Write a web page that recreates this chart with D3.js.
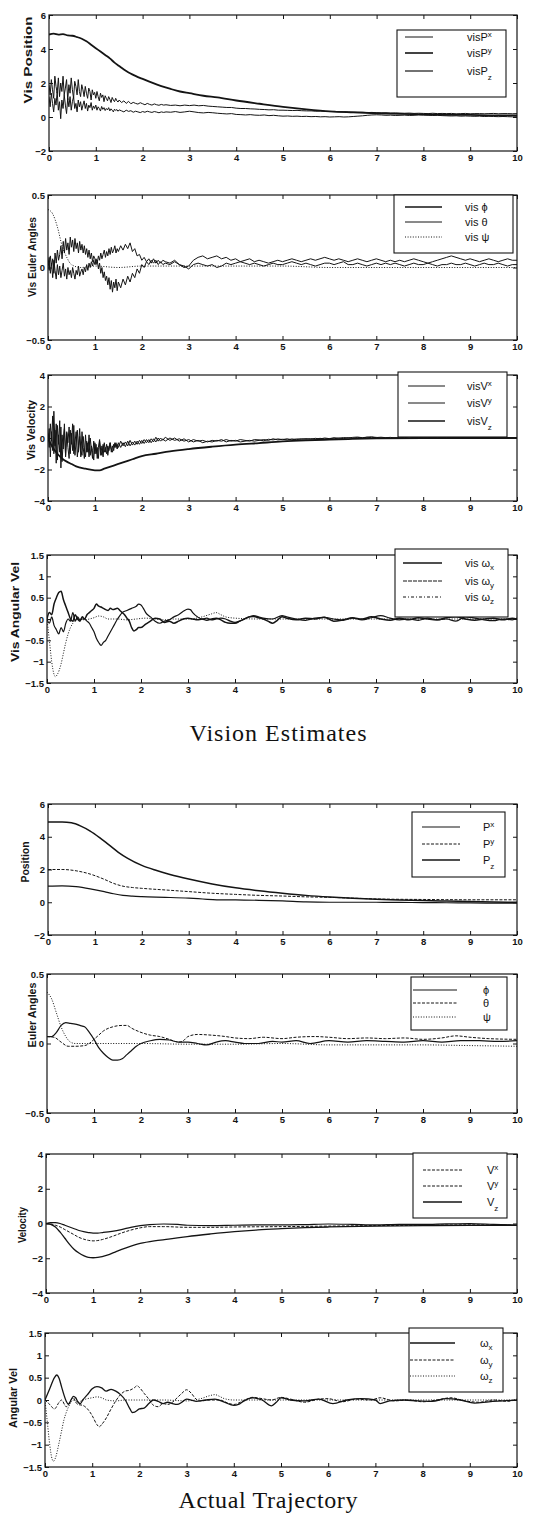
<!DOCTYPE html>
<html>
<head>
<meta charset="utf-8">
<script src="https://cdn.jsdelivr.net/npm/d3@7"></script>
<style>
  body { margin: 0; background: #fff; }
  svg { display: block; }
</style>
</head>
<body>
<div id="chart"></div>
<script>
// ---------- sample times ----------
// noisy vision signals: 0.025 s samples to 1.5 s, 0.05 s to 2.5 s, then 0.1 s
var tFine = d3.range(60).map(function(i) { return i * 0.025; })
    .concat(d3.range(20).map(function(i) { return 1.5 + i * 0.05; }))
    .concat(d3.range(76).map(function(i) { return 2.5 + i * 0.1; }));
var xTicks = [0, 1, 2, 3, 4, 5, 6, 7, 8, 9, 10];

// ---------- Vision estimates: position ----------
var visPxVals = [
    1.2,0.6,1.4,0.8,0.3,1.1,0.7,1.5,0.4,0.9,
    -0.1,1.0,0.5,1.3,0.7,0.2,1.1,0.6,1.2,0.4,
    0.9,1.2,0.5,0.8,0.3,1.0,0.6,0.9,0.4,0.7,
    0.95,0.5,0.8,0.35,0.7,0.55,0.85,0.4,0.65,0.5,
    0.7,0.4,0.6,0.5,0.35,0.62,0.45,0.55,0.38,0.5,
    0.42,0.55,0.36,0.48,0.4,0.3,0.46,0.38,0.44,0.34,
    0.42,0.36,0.3,0.4,0.33,0.37,0.28,0.34,0.3,0.26,
    0.32,0.28,0.34,0.3,0.27,0.32,0.29,0.25,0.3,0.27,
    0.3,0.28,0.32,0.27,0.3,0.34,0.3,0.26,0.24,0.27,
    0.25,0.22,0.2,0.18,0.2,0.15,0.14,0.12,0.14,0.11,
    0.1,0.12,0.08,0.1,0.07,0.05,0.06,0.04,0.05,0.03,
    0.04,0.02,0.03,0.01,0.02,0,0.01,0.02,0,0.01,
    0.03,0.05,0.07,0.1,0.12,0.13,0.12,0.1,0.11,0.09,
    0.1,0.11,0.09,0.1,0.12,0.11,0.1,0.09,0.1,0.08,
    0.07,0.06,0.07,0.05,0.06,0.05,0.04,0.05,0.03,0.04,
    0.03,0.02,0.03,0.02,0.01,0.02
];
var visPyVals = [
    1.9,1.3,2.2,1.6,1.1,2.4,1.8,1.4,2.3,1.2,
    2.0,1.5,2.4,1.3,1.7,2.2,1.0,1.9,1.4,2.3,
    1.6,1.1,2.1,1.8,1.3,2.2,1.5,1.2,1.9,1.6,
    1.2,1.8,1.4,1.1,1.7,1.5,1.0,1.6,1.3,1.45,
    1.1,1.5,1.2,0.95,1.4,1.15,1.3,0.9,1.25,1.1,
    0.95,1.2,1.05,0.85,1.15,1.0,0.9,1.1,0.95,0.88,
    1.0,0.85,0.95,0.8,0.92,0.78,0.86,0.8,0.76,0.84,
    0.78,0.72,0.8,0.74,0.7,0.77,0.72,0.69,0.74,0.7,
    0.72,0.68,0.7,0.66,0.7,0.67,0.7,0.66,0.68,0.64,
    0.62,0.6,0.58,0.56,0.56,0.52,0.5,0.5,0.48,0.47,
    0.45,0.44,0.42,0.43,0.4,0.4,0.39,0.38,0.39,0.37,
    0.36,0.36,0.34,0.35,0.33,0.32,0.33,0.31,0.31,0.3,
    0.29,0.28,0.28,0.26,0.27,0.25,0.24,0.25,0.23,0.24,
    0.23,0.22,0.23,0.21,0.22,0.21,0.2,0.22,0.2,0.21,
    0.2,0.21,0.19,0.2,0.21,0.19,0.2,0.2,0.19,0.2,
    0.21,0.19,0.2,0.2,0.19,0.2
];
var visPz = [[0,4.85],[0.1,4.9],[0.2,4.85],[0.3,4.88],[0.4,4.8],[0.5,4.78],[0.6,4.7],[0.7,4.6],
    [0.8,4.45],[0.9,4.25],[1.0,4.05],[1.1,3.85],[1.2,3.65],[1.3,3.45],[1.4,3.2],[1.5,3.0],
    [1.6,2.8],[1.7,2.62],[1.8,2.48],[1.9,2.35],[2.0,2.24],[2.2,2.02],[2.4,1.82],[2.6,1.65],
    [2.8,1.5],[3.0,1.4],[3.3,1.25],[3.6,1.15],[4.0,0.97],[4.5,0.78],[5.0,0.6],[5.5,0.45],
    [6.0,0.33],[6.5,0.27],[7.0,0.22],[7.5,0.18],[8.0,0.15],[8.5,0.13],[9.0,0.12],[9.5,0.1],[10,0.1]];

// ---------- Vision estimates: Euler angles ----------
var visPhiVals = [
    0.05,-0.02,0.08,0.01,0.06,-0.04,0.1,0.03,0.12,0.05,
    0.09,0.15,0.06,0.18,0.1,0.2,0.12,0.17,0.09,0.21,
    0.14,0.19,0.11,0.2,0.13,0.17,0.1,0.18,0.12,0.16,
    0.1,0.15,0.09,0.13,0.07,0.12,0.06,0.1,0.04,0.08,
    0.06,0.02,0.05,-0.01,0.03,-0.04,0.0,-0.07,-0.03,-0.09,
    -0.06,-0.12,-0.07,-0.15,-0.09,-0.17,-0.1,-0.14,-0.08,-0.16,
    -0.1,-0.14,-0.08,-0.12,-0.06,-0.1,-0.04,-0.07,-0.01,-0.04,
    0.02,0.0,0.04,0.02,0.05,0.03,0.05,0.02,0.04,0.02,
    0.03,0.02,0.04,0.02,0.01,-0.01,0.02,0.03,0.02,0.01,
    0.02,0.0,0.01,0.03,0.02,0.03,0.04,0.03,0.02,0.03,
    0.02,0.01,0.02,0.03,0.02,0.02,0.03,0.04,0.03,0.02,
    0.03,0.02,0.01,0.02,0.03,0.03,0.02,0.03,0.04,0.02,
    0.02,0.03,0.02,0.01,0.02,0.03,0.02,0.03,0.02,0.03,
    0.02,0.01,0.02,0.03,0.02,0.02,0.03,0.02,0.01,0.02,
    0.02,0.03,0.02,0.02,0.03,0.02,0.01,0.02,0.03,0.02,
    0.02,0.03,0.02,0.01,0.02,0.02
];
var visThetaVals = [
    0.02,0.07,-0.04,0.03,-0.07,0.05,-0.02,-0.08,0.02,-0.05,
    0.01,-0.07,-0.02,0.03,-0.06,-0.01,-0.08,0.0,-0.05,-0.02,
    -0.07,0.0,-0.04,-0.08,-0.02,-0.05,0.01,-0.06,-0.03,-0.01,
    -0.05,0.0,-0.03,0.02,-0.02,0.03,0.0,0.04,0.01,0.05,
    0.02,0.06,0.03,0.08,0.05,0.1,0.06,0.09,0.12,0.07,
    0.11,0.08,0.13,0.09,0.14,0.1,0.12,0.15,0.1,0.13,
    0.11,0.15,0.12,0.16,0.13,0.17,0.11,0.13,0.08,0.09,
    0.05,0.07,0.04,0.06,0.03,0.06,0.03,0.05,0.03,0.05,
    0.04,0.03,0.05,0.02,0.0,0.01,0.05,0.07,0.08,0.06,
    0.07,0.08,0.06,0.07,0.05,0.06,0.04,0.05,0.06,0.04,
    0.05,0.04,0.03,0.04,0.05,0.04,0.05,0.06,0.05,0.04,
    0.05,0.06,0.05,0.06,0.07,0.06,0.05,0.06,0.05,0.04,
    0.05,0.06,0.05,0.04,0.05,0.06,0.05,0.04,0.05,0.04,
    0.05,0.04,0.05,0.06,0.05,0.04,0.03,0.04,0.05,0.06,
    0.07,0.08,0.07,0.06,0.05,0.06,0.05,0.04,0.05,0.06,
    0.05,0.04,0.05,0.06,0.05,0.05
];
var visPsi = [[0,0.4],[0.1,0.37],[0.2,0.28],[0.3,0.15],[0.4,0.07],[0.5,0.02],[0.7,0.0],[1.0,0.01],
    [1.5,0.0],[2.0,0.01],[3,0.01],[4,0.01],[5,0.01],[6,0.0],[7,0.0],[8,0.0],[9,0.0],[10,0.0]];

// ---------- Vision estimates: velocity ----------
var visVxVals = [
    0.3,-0.6,0.9,-0.2,1.4,-1.0,0.5,-1.6,0.8,-0.4,
    1.1,-1.9,0.2,-0.7,0.9,-1.2,0.4,-0.3,0.7,-1.0,
    0.3,-0.8,0.8,-1.1,-0.2,0.5,-0.9,0.1,-1.2,0.4,
    -0.6,-1.3,0.2,-0.9,-0.3,-1.2,0.0,-0.7,-1.3,-0.2,
    -1.0,-0.4,-1.3,-0.6,-0.1,-1.1,-0.5,-1.2,-0.3,-0.9,
    -0.4,-1.1,-0.6,-0.3,-0.9,-0.5,-0.8,-0.3,-0.6,-0.4,
    -0.6,-0.2,-0.5,-0.25,-0.5,-0.15,-0.45,-0.2,-0.4,-0.15,
    -0.35,-0.1,-0.3,-0.1,-0.3,-0.05,-0.25,0.0,-0.2,-0.05,
    -0.2,0.0,-0.15,-0.05,-0.2,-0.1,-0.25,-0.15,-0.3,-0.2,
    -0.25,-0.15,-0.2,-0.1,-0.2,-0.15,-0.25,-0.2,-0.15,-0.2,
    -0.15,-0.1,-0.15,-0.05,-0.12,-0.08,-0.12,-0.06,-0.1,-0.05,
    -0.08,-0.04,-0.08,-0.02,-0.06,-0.03,-0.05,0.0,-0.04,0.02,
    -0.02,0.03,0.0,0.05,0.02,0.04,0.0,0.02,-0.01,0.02,
    0.0,0.02,-0.01,0.03,0.01,0.02,0.0,0.03,0.01,0.02,
    0.0,0.02,0.01,0.03,0.0,0.02,0.01,0.0,0.02,0.01,
    0.0,0.02,0.0,0.01,0.0,0.0
];
var visVyVals = [
    -0.2,0.6,-1.2,0.4,-0.8,1.7,-0.5,0.9,-1.4,0.2,
    -0.9,0.7,-1.5,-0.2,0.6,-1.1,0.3,-0.6,-1.3,0.5,
    -0.4,0.9,-1.0,-0.3,0.4,-1.2,-0.5,0.6,-0.8,-1.1,
    0.1,-0.7,-1.2,-0.2,-0.9,0.2,-1.1,-0.5,-0.8,-1.4,
    -0.3,-1.0,-0.6,-1.3,-0.2,-0.8,-1.1,-0.4,-0.9,-0.6,
    -1.0,-0.5,-0.8,-0.3,-0.7,-0.9,-0.4,-0.6,-0.3,-0.7,
    -0.3,-0.6,-0.3,-0.55,-0.2,-0.5,-0.25,-0.45,-0.2,-0.4,
    -0.15,-0.35,-0.1,-0.3,-0.05,-0.25,0.05,-0.2,0.0,-0.15,
    0.05,-0.15,0.0,-0.2,-0.05,-0.25,-0.1,-0.2,-0.15,-0.25,
    -0.15,-0.2,-0.1,-0.25,-0.15,-0.2,-0.1,-0.15,-0.2,-0.1,
    -0.12,-0.18,-0.08,-0.12,-0.06,-0.1,-0.05,-0.12,-0.06,-0.08,
    -0.04,-0.08,-0.02,-0.06,0.0,-0.04,0.02,-0.02,0.03,0.0,
    0.04,0.06,0.02,0.05,0.08,0.03,0.05,0.02,0.04,0.0,
    0.02,0.04,0.0,0.02,0.03,0.0,0.02,0.04,0.01,0.03,
    0.02,0.04,0.05,0.02,0.03,0.04,0.01,0.02,0.0,0.02,
    0.01,0.0,0.02,0.0,0.01,0.0
];
var visVz = [[0,0],[0.1,-0.6],[0.2,-1.0],[0.3,-1.3],[0.4,-1.5],[0.5,-1.65],[0.6,-1.8],[0.8,-1.95],
    [1.0,-2.05],[1.1,-2.05],[1.2,-1.95],[1.4,-1.75],[1.6,-1.55],[1.8,-1.35],[2.0,-1.15],[2.3,-1.0],
    [2.6,-0.85],[3.0,-0.7],[3.5,-0.55],[4.0,-0.42],[4.5,-0.32],[5.0,-0.22],[5.5,-0.15],[6.0,-0.1],
    [6.5,-0.06],[7,-0.03],[8,-0.01],[9,0],[10,0]];

// ---------- Vision estimates: angular velocity ----------
var visWx = [[0,0],[0.05,0.15],[0.1,0.1],[0.15,0.35],[0.2,0.5],[0.25,0.62],[0.3,0.65],[0.35,0.45],
    [0.4,0.3],[0.45,0.15],[0.5,0.0],[0.55,-0.05],[0.6,0.1],[0.65,0.0],[0.7,-0.05],[0.75,0.05],
    [0.8,0.0],[0.85,0.1],[0.9,0.15],[0.95,0.2],[1.0,0.25],[1.05,0.35],[1.1,0.3],[1.15,0.28],
    [1.2,0.25],[1.3,0.2],[1.35,0.25],[1.4,0.22],[1.5,0.25],[1.55,0.2],[1.6,0.15],[1.65,0.1],
    [1.7,0.02],[1.75,-0.05],[1.8,-0.2],[1.85,-0.28],[1.9,-0.25],[1.95,-0.2],[2.0,-0.2],[2.1,-0.12],
    [2.2,-0.05],[2.3,0.02],[2.4,0.0],[2.5,-0.08],[2.6,-0.05],[2.7,-0.1],[2.8,-0.05],[2.9,0.0],
    [3.0,0.02],[3.1,0.0],[3.2,-0.02],[3.3,0.0],[3.4,-0.03],[3.5,0.0],[3.6,0.02],[3.7,-0.02],
    [3.8,-0.08],[3.9,-0.1],[4.0,-0.1],[4.1,-0.05],[4.2,0.0],[4.3,0.05],[4.4,0.06],[4.5,0.03],
    [4.6,0.0],[4.7,-0.05],[4.8,-0.1],[4.9,-0.03],[5.0,0.05],[5.1,0.02],[5.3,-0.02],[5.5,0.02],
    [5.7,0.0],[5.9,0.04],[6.1,-0.05],[6.3,-0.02],[6.5,0.03],[6.7,0.0],[6.9,0.05],[7.1,0.0],
    [7.3,-0.03],[7.5,0.02],[7.7,-0.02],[7.9,0.03],[8.1,0.0],[8.3,-0.02],[8.5,0.03],[8.7,0.05],
    [8.9,0.0],[9.1,-0.03],[9.3,0.0],[9.5,0.02],[9.7,-0.02],[9.9,0.02],[10,0.0]];
var visWy = [[0,0],[0.05,-0.1],[0.1,0.05],[0.15,-0.15],[0.2,-0.25],[0.25,-0.35],[0.3,-0.2],[0.35,-0.3],
    [0.4,-0.1],[0.45,0.0],[0.5,-0.05],[0.55,0.15],[0.6,-0.05],[0.65,0.05],[0.7,-0.02],[0.75,0.0],
    [0.8,0.0],[0.85,-0.05],[0.9,-0.1],[0.95,-0.2],[1.0,-0.3],[1.05,-0.45],[1.1,-0.55],[1.15,-0.62],
    [1.2,-0.55],[1.25,-0.5],[1.3,-0.4],[1.35,-0.3],[1.4,-0.2],[1.45,-0.1],[1.5,0.0],[1.55,0.08],
    [1.6,0.15],[1.7,0.2],[1.8,0.25],[1.9,0.3],[1.95,0.35],[2.0,0.33],[2.05,0.25],[2.1,0.15],
    [2.2,0.05],[2.3,-0.05],[2.4,-0.1],[2.5,-0.05],[2.6,-0.02],[2.7,0.05],[2.8,0.1],[2.9,0.18],
    [3.0,0.23],[3.05,0.22],[3.1,0.15],[3.2,0.05],[3.3,0.0],[3.4,0.02],[3.5,-0.02],[3.6,0.0],
    [3.7,0.02],[3.8,0.0],[3.9,-0.05],[4.0,-0.08],[4.1,-0.05],[4.2,0.0],[4.3,0.05],[4.4,0.08],
    [4.5,0.05],[4.6,0.02],[4.8,0.0],[5.0,0.08],[5.1,0.05],[5.3,0.0],[5.5,-0.03],[5.7,0.02],
    [5.9,0.04],[6.1,0.0],[6.3,-0.03],[6.5,0.02],[6.7,-0.02],[6.9,0.03],[7.1,0.08],[7.3,0.02],
    [7.5,-0.02],[7.7,0.0],[7.9,-0.03],[8.1,0.02],[8.3,-0.02],[8.5,0.0],[8.7,-0.05],[8.9,0.05],
    [9.1,0.02],[9.3,-0.02],[9.5,-0.04],[9.7,0.0],[9.9,-0.02],[10,0.02]];
var visWz = [[0,0],[0.05,-0.5],[0.1,-1.0],[0.15,-1.3],[0.18,-1.35],[0.22,-1.3],[0.3,-1.05],[0.35,-0.8],
    [0.4,-0.55],[0.45,-0.35],[0.5,-0.2],[0.55,-0.1],[0.6,-0.02],[0.7,0.0],[0.8,-0.02],[0.9,0.0],
    [1.0,0.03],[1.1,0.07],[1.2,0.05],[1.3,0.0],[1.5,0.0],[1.7,-0.02],[1.9,0.0],[2.1,0.02],[2.3,0.0],
    [2.5,-0.02],[2.7,0.0],[3.0,0.0],[3.3,0.05],[3.5,0.12],[3.6,0.15],[3.7,0.1],[3.8,0.05],[4.0,0.02],
    [4.5,0.0],[5,0.0],[5.5,0.0],[6,0.0],[7,0.0],[8,0.0],[9,0.0],[10,0.0]];

// ---------- Actual trajectory ----------
var actPx = [[0,0.98],[0.3,1.0],[0.6,0.95],[0.9,0.82],[1.2,0.65],[1.4,0.52],[1.6,0.42],[1.8,0.37],
    [2.0,0.34],[2.5,0.3],[3.0,0.25],[3.3,0.2],[3.6,0.15],[4.0,0.14],[4.5,0.12],[5.0,0.08],[5.5,0.02],
    [6.0,0.0],[6.5,0.0],[7.0,0.0],[7.5,-0.01],[8.0,-0.02],[8.5,-0.03],[9.0,-0.04],[9.5,-0.05],[10,-0.05]];
var actPy = [[0,2.0],[0.3,2.0],[0.6,1.92],[0.9,1.72],[1.2,1.4],[1.4,1.15],[1.6,0.98],[1.8,0.9],
    [2.0,0.85],[2.5,0.75],[3.0,0.65],[3.5,0.55],[4.0,0.48],[4.5,0.42],[5.0,0.38],[5.5,0.33],[6.0,0.3],
    [6.5,0.25],[7.0,0.2],[7.5,0.18],[8.0,0.17],[8.5,0.16],[9.0,0.15],[9.5,0.15],[10,0.15]];
var actPz = [[0,4.9],[0.3,4.9],[0.5,4.85],[0.7,4.65],[0.9,4.35],[1.1,3.95],[1.3,3.5],[1.5,3.05],
    [1.7,2.68],[2.0,2.25],[2.3,1.95],[2.6,1.7],[3.0,1.42],[3.5,1.12],[4.0,0.88],[4.5,0.7],[5.0,0.55],
    [5.5,0.42],[6.0,0.32],[6.5,0.24],[7.0,0.18],[7.5,0.14],[8.0,0.1],[8.5,0.07],[9.0,0.05],[9.5,0.02],[10,0.0]];

var actPhi = [[0,0.05],[0.1,0.05],[0.2,0.08],[0.3,0.13],[0.4,0.15],[0.5,0.145],[0.6,0.14],[0.7,0.13],
    [0.8,0.12],[0.9,0.08],[1.0,0.03],[1.1,-0.03],[1.2,-0.07],[1.3,-0.1],[1.4,-0.12],[1.5,-0.12],
    [1.6,-0.11],[1.7,-0.08],[1.8,-0.05],[1.9,-0.02],[2.0,0.0],[2.2,0.02],[2.4,0.03],[2.6,0.025],
    [2.8,0.01],[3.0,0.01],[3.2,0.0],[3.4,-0.01],[3.6,0.01],[3.8,0.02],[4.0,0.01],[4.2,0.0],[4.5,0.0],
    [4.8,0.015],[5.0,0.01],[5.3,0.02],[5.6,0.0],[6.0,0.02],[6.4,0.01],[6.8,0.02],[7.2,0.015],[7.6,0.01],
    [8.0,0.02],[8.4,0.01],[8.8,0.02],[9.2,0.02],[9.6,0.015],[10,0.02]];
var actTheta = [[0,0.05],[0.15,0.045],[0.3,0.01],[0.45,-0.02],[0.6,-0.02],[0.8,-0.015],[0.9,0.0],
    [1.0,0.03],[1.1,0.06],[1.2,0.09],[1.4,0.12],[1.6,0.13],[1.7,0.13],[1.8,0.11],[2.0,0.08],[2.2,0.06],
    [2.4,0.05],[2.6,0.03],[2.8,0.01],[2.9,0.02],[3.0,0.05],[3.2,0.065],[3.5,0.06],[3.8,0.05],[4.0,0.04],
    [4.3,0.035],[4.6,0.045],[5.0,0.035],[5.3,0.045],[5.7,0.05],[6.0,0.045],[6.4,0.035],[6.8,0.04],
    [7.2,0.035],[7.6,0.04],[8.0,0.03],[8.4,0.04],[8.7,0.055],[9.0,0.045],[9.4,0.035],[10,0.03]];
var actPsi = [[0,0.37],[0.1,0.32],[0.2,0.22],[0.3,0.12],[0.4,0.05],[0.5,0.01],[0.6,0.0],[1.0,0.0],
    [2,0.0],[3,-0.005],[4,-0.005],[5,0.0],[6,-0.01],[7,-0.01],[8,-0.01],[9,-0.015],[10,-0.02]];

var actVx = [[0,0],[0.1,0.05],[0.2,0.05],[0.3,0.0],[0.4,-0.1],[0.5,-0.2],[0.6,-0.3],[0.7,-0.4],
    [0.8,-0.47],[0.9,-0.52],[1.0,-0.55],[1.1,-0.55],[1.2,-0.52],[1.4,-0.45],[1.6,-0.35],[1.8,-0.22],
    [2.0,-0.12],[2.2,-0.06],[2.5,-0.03],[2.8,-0.05],[3.0,-0.1],[3.5,-0.12],[4.0,-0.1],[4.5,-0.08],
    [5.0,-0.08],[5.5,-0.06],[6.0,-0.03],[6.5,-0.05],[7.0,-0.08],[7.5,-0.05],[8.0,-0.05],[8.5,-0.02],
    [9.0,0.0],[9.5,-0.05],[10,-0.1]];
var actVy = [[0,0],[0.1,-0.02],[0.2,-0.1],[0.3,-0.2],[0.4,-0.35],[0.5,-0.5],[0.6,-0.65],[0.7,-0.8],
    [0.8,-0.9],[0.9,-0.97],[1.0,-1.0],[1.1,-0.98],[1.2,-0.92],[1.4,-0.75],[1.6,-0.55],[1.8,-0.38],
    [2.0,-0.25],[2.2,-0.18],[2.5,-0.18],[3.0,-0.22],[3.5,-0.22],[4.0,-0.2],[5.0,-0.18],[6.0,-0.15],
    [7.0,-0.12],[8.0,-0.1],[9.0,-0.08],[10,-0.1]];
var actVz = [[0,0],[0.1,-0.05],[0.2,-0.2],[0.3,-0.5],[0.4,-0.85],[0.5,-1.2],[0.6,-1.5],[0.7,-1.7],
    [0.8,-1.85],[0.9,-1.95],[1.0,-1.97],[1.1,-1.95],[1.3,-1.82],[1.5,-1.6],[1.7,-1.4],[2.0,-1.15],
    [2.3,-1.0],[2.6,-0.9],[3.0,-0.75],[3.5,-0.6],[4.0,-0.47],[4.5,-0.37],[5.0,-0.3],[5.5,-0.24],
    [6.0,-0.2],[7.0,-0.15],[8.0,-0.12],[9.0,-0.1],[10,-0.1]];

var actWx = [[0,0],[0.1,0.25],[0.2,0.5],[0.25,0.56],[0.3,0.48],[0.35,0.3],[0.4,0.12],[0.45,-0.03],
    [0.5,-0.1],[0.55,0.0],[0.6,0.08],[0.65,0.05],[0.7,-0.05],[0.75,-0.08],[0.8,0.0],[0.9,0.12],
    [1.0,0.25],[1.1,0.3],[1.2,0.27],[1.3,0.2],[1.4,0.24],[1.5,0.2],[1.6,0.12],[1.7,0.0],[1.8,-0.2],
    [1.85,-0.28],[1.9,-0.27],[2.0,-0.2],[2.1,-0.18],[2.2,-0.08],[2.3,0.0],[2.4,-0.03],[2.5,-0.08],
    [2.6,-0.05],[2.7,-0.08],[2.8,-0.1],[2.9,-0.05],[3.0,0.02],[3.2,-0.03],[3.4,0.0],[3.6,0.02],
    [3.8,-0.05],[4.0,-0.12],[4.1,-0.1],[4.2,-0.03],[4.4,0.05],[4.6,0.0],[4.8,-0.13],[4.9,-0.05],
    [5.0,0.05],[5.2,0.0],[5.5,-0.02],[5.8,0.02],[6.1,-0.08],[6.4,0.0],[6.7,0.03],[7.0,0.0],[7.1,-0.08],
    [7.3,-0.02],[7.6,0.0],[7.9,-0.02],[8.2,-0.03],[8.5,0.03],[8.8,0.0],[9.1,-0.07],[9.4,-0.04],
    [9.7,-0.02],[10,0.0]];
var actWy = [[0,0],[0.1,-0.1],[0.2,-0.2],[0.3,-0.05],[0.35,0.0],[0.45,-0.15],[0.55,0.0],[0.6,0.05],
    [0.65,-0.05],[0.7,-0.1],[0.8,-0.12],[0.9,-0.2],[1.0,-0.35],[1.1,-0.55],[1.15,-0.6],[1.2,-0.55],
    [1.3,-0.4],[1.4,-0.2],[1.5,-0.02],[1.6,0.12],[1.7,0.2],[1.8,0.22],[1.9,0.28],[1.95,0.32],[2.0,0.28],
    [2.1,0.15],[2.2,0.02],[2.3,-0.12],[2.4,-0.15],[2.5,-0.08],[2.6,-0.1],[2.7,-0.05],[2.8,0.05],
    [2.9,0.15],[3.0,0.23],[3.1,0.15],[3.2,0.02],[3.3,-0.02],[3.5,0.0],[3.7,0.0],[3.9,-0.08],[4.0,-0.1],
    [4.2,-0.02],[4.4,0.06],[4.6,0.03],[4.8,0.0],[5.0,0.06],[5.2,0.02],[5.5,-0.05],[5.8,0.02],[6.0,0.03],
    [6.3,-0.04],[6.6,0.02],[6.9,0.0],[7.1,0.05],[7.4,-0.02],[7.7,0.0],[8.0,-0.04],[8.3,0.0],[8.6,0.05],
    [8.9,-0.02],[9.2,-0.05],[9.5,0.0],[9.8,-0.03],[10,0.02]];
var actWz = [[0,0],[0.05,-0.5],[0.1,-1.0],[0.15,-1.32],[0.18,-1.37],[0.22,-1.3],[0.3,-0.95],[0.35,-0.7],
    [0.4,-0.45],[0.45,-0.28],[0.5,-0.15],[0.55,-0.05],[0.6,0.0],[0.7,-0.05],[0.8,0.0],[0.9,0.03],
    [1.0,0.05],[1.1,0.07],[1.2,0.05],[1.3,0.0],[1.5,-0.02],[1.7,0.0],[2.0,0.0],[2.5,0.0],[3.0,-0.02],
    [3.3,0.03],[3.5,0.1],[3.6,0.12],[3.7,0.08],[3.8,0.03],[4.0,0.0],[5,0.0],[6,0.0],[7,0.0],[8,0.0],
    [9,0.0],[10,0.0]];

// pair the noisy samples with their times
var fine = function(vals) { return d3.zip(tFine, vals); };

// line styles
var SOLID = null, DASH = "3,1.5", DOT = "1,1.6";

// ---------- panel layout ----------
var panels = [
    { rect: [49, 15, 517, 151], yDomain: [-2, 6], yTicks: [-2, 0, 2, 4, 6],
      label: "Vis Position", labelPos: [28, 60, 87],
      legend: { box: [397, 30, 506, 97], rows: [37, 53, 71], line: [405, 433], tx: 467 },
      series: [
        { data: fine(visPxVals), w: 1, dash: SOLID, name: "visP", sub: "x", dy: -4 },
        { data: fine(visPyVals), w: 1, dash: SOLID, lw: 1.6, name: "visP", sub: "y", dy: -4 },
        { data: visPz, smooth: true, w: 1.8, dash: SOLID, lw: 1.2, name: "visP", sub: "z", dy: 5 }
      ] },
    { rect: [48, 195, 517, 340], yDomain: [-0.5, 0.5], yTicks: [-0.5, 0, 0.5],
      label: "Vis Euler Angles", labelPos: [32, 257, 80],
      legend: { box: [394, 195, 513, 253], rows: [207, 222, 237], line: [405, 442], tx: 465 },
      series: [
        { data: fine(visPhiVals), w: 1, dash: SOLID, lw: 1.6, name: "vis \u03d5" },
        { data: fine(visThetaVals), w: 1, dash: SOLID, name: "vis \u03b8" },
        { data: visPsi, smooth: true, w: 1, dash: DOT, name: "vis \u03c8" }
      ] },
    { rect: [48, 375, 517, 501], yDomain: [-4, 4], yTicks: [-4, -2, 0, 2, 4],
      label: "Vis Velocity", labelPos: [31, 430, 60],
      legend: { box: [398, 372, 507, 437], rows: [386, 403, 421], line: [408, 445], tx: 467 },
      series: [
        { data: fine(visVxVals), w: 1, dash: SOLID, name: "visV", sub: "x", dy: -4 },
        { data: fine(visVyVals), w: 1, dash: SOLID, name: "visV", sub: "y", dy: -4 },
        { data: visVz, smooth: true, w: 1.8, dash: SOLID, lw: 1.6, name: "visV", sub: "z", dy: 5 }
      ] },
    { rect: [47, 555, 517, 683], yDomain: [-1.5, 1.5], yTicks: [-1.5, -1, -0.5, 0, 0.5, 1, 1.5],
      label: "Vis Angular Vel", labelPos: [15, 612, 100],
      legend: { box: [395, 549, 508, 617], rows: [563, 581, 597], line: [403, 442], tx: 465 },
      series: [
        { data: visWx, smooth: true, w: 1.5, dash: SOLID, name: "vis \u03c9", sub: "x", dy: 3 },
        { data: visWy, smooth: true, w: 1.2, dash: SOLID, lw: 1, ldash: "4,1", name: "vis \u03c9", sub: "y", dy: 3 },
        { data: visWz, smooth: true, w: 1, dash: DOT, ldash: "3,2,1,2", name: "vis \u03c9", sub: "z", dy: 3 }
      ] },
    { rect: [48, 804, 517, 935], yDomain: [-2, 6], yTicks: [-2, 0, 2, 4, 6],
      label: "Position", labelPos: [25, 862, 41],
      legend: { box: [412, 812, 505, 877], rows: [827, 844, 860], line: [422, 460], tx: 483 },
      series: [
        { data: actPx, smooth: true, w: 1.2, dash: SOLID, name: "P", sub: "x", dy: -4 },
        { data: actPy, smooth: true, w: 1, dash: DASH, name: "P", sub: "y", dy: -4 },
        { data: actPz, smooth: true, w: 1.5, dash: SOLID, name: "P", sub: "z", dy: 5 }
      ] },
    { rect: [47, 974, 517, 1113], yDomain: [-0.5, 0.5], yTicks: [-0.5, 0, 0.5],
      label: "Euler Angles", labelPos: [32, 1015, 65],
      legend: { box: [411, 977, 507, 1030], rows: [990, 1003, 1017], line: [413, 457], tx: 483 },
      series: [
        { data: actPhi, smooth: true, w: 1.2, dash: SOLID, name: "\u03d5" },
        { data: actTheta, smooth: true, w: 1, dash: DASH, name: "\u03b8" },
        { data: actPsi, smooth: true, w: 1, dash: DOT, name: "\u03c8" }
      ] },
    { rect: [46, 1154, 517, 1293], yDomain: [-4, 4], yTicks: [-4, -2, 0, 2, 4],
      label: "Velocity", labelPos: [22, 1225, 36],
      legend: { box: [413, 1153, 507, 1218], rows: [1170, 1186, 1202], line: [423, 462], tx: 487 },
      series: [
        { data: actVx, smooth: true, w: 1.2, dash: SOLID, ldash: DASH, name: "V", sub: "x", dy: -4 },
        { data: actVy, smooth: true, w: 1, dash: DASH, name: "V", sub: "y", dy: -4 },
        { data: actVz, smooth: true, w: 1.3, dash: SOLID, name: "V", sub: "z", dy: 5 }
      ] },
    { rect: [45, 1333, 517, 1467], yDomain: [-1.5, 1.5], yTicks: [-1.5, -1, -0.5, 0, 0.5, 1, 1.5],
      label: "Angular Vel", labelPos: [13, 1398, 60],
      legend: { box: [409, 1328, 503, 1392], rows: [1343, 1360, 1376], line: [410, 455], tx: 480 },
      series: [
        { data: actWx, smooth: true, w: 1.3, dash: SOLID, name: "\u03c9", sub: "x", dy: 3 },
        { data: actWy, smooth: true, w: 1, dash: DASH, name: "\u03c9", sub: "y", dy: 3 },
        { data: actWz, smooth: true, w: 1, dash: DOT, name: "\u03c9", sub: "z", dy: 3 }
      ] }
];

var titles = [
    { text: "Vision Estimates", x: 278, y: 741, len: 177 },
    { text: "Actual Trajectory", x: 268, y: 1508, len: 179 }
];

// ---------- drawing ----------
var svg = d3.select("#chart").append("svg")
    .attr("width", 550)
    .attr("height", 1520)
    .style("font-family", "'Liberation Sans', Arial, Helvetica, sans-serif");

svg.append("rect").attr("width", 550).attr("height", 1520).attr("fill", "#fff");

var ink = "#141414";
var fmtY = function(v) { return (v < 0 ? "\u2212" : "") + Math.abs(v); };

function styleAxis(a) {
    a.select(".domain").remove();
    a.attr("font-family", null).attr("font-size", null);
    a.selectAll("line").attr("stroke", ink).attr("stroke-width", 1);
    a.selectAll("text").attr("fill", ink)
        .style("font-size", "9.5px").style("font-weight", "bold");
}

panels.forEach(function(p, idx) {
    var x0 = p.rect[0], y0 = p.rect[1], x1 = p.rect[2], y1 = p.rect[3];
    var x = d3.scaleLinear().domain([0, 10]).range([x0, x1]);
    var y = d3.scaleLinear().domain(p.yDomain).range([y1, y0]);
    var g = svg.append("g").attr("class", "panel");

    // clip the curves to the plot box
    var clipId = "clip" + idx;
    g.append("clipPath").attr("id", clipId)
        .append("rect").attr("x", x0).attr("y", y0)
        .attr("width", x1 - x0).attr("height", y1 - y0);

    var curves = g.append("g").attr("clip-path", "url(#" + clipId + ")");
    p.series.forEach(function(s) {
        var line = d3.line()
            .x(function(d) { return x(d[0]); })
            .y(function(d) { return y(d[1]); })
            .curve(s.smooth ? d3.curveMonotoneX : d3.curveLinear);
        curves.append("path")
            .attr("d", line(s.data))
            .attr("fill", "none")
            .attr("stroke", ink)
            .attr("stroke-width", s.w)
            .attr("stroke-linejoin", "round")
            .attr("stroke-dasharray", s.dash);
    });

    // axes, ticks inside on all four sides
    g.append("g").attr("transform", "translate(0," + y1 + ")")
        .call(d3.axisBottom(x).tickValues(xTicks).tickSize(-4).tickSizeOuter(0).tickPadding(3))
        .call(styleAxis);
    g.append("g").attr("transform", "translate(0," + y0 + ")")
        .call(d3.axisTop(x).tickValues(xTicks).tickSize(-4).tickSizeOuter(0).tickFormat(""))
        .call(styleAxis);
    g.append("g").attr("transform", "translate(" + x0 + ",0)")
        .call(d3.axisLeft(y).tickValues(p.yTicks).tickSize(-4).tickSizeOuter(0).tickPadding(3).tickFormat(fmtY))
        .call(styleAxis);
    g.append("g").attr("transform", "translate(" + x1 + ",0)")
        .call(d3.axisRight(y).tickValues(p.yTicks).tickSize(-4).tickSizeOuter(0).tickFormat(""))
        .call(styleAxis);

    g.append("rect")
        .attr("x", x0).attr("y", y0)
        .attr("width", x1 - x0).attr("height", y1 - y0)
        .attr("fill", "none").attr("stroke", ink).attr("stroke-width", 1.2);

    // y label
    g.append("text")
        .attr("transform", "translate(" + (p.labelPos[0] + 4) + "," + p.labelPos[1] + ") rotate(-90)")
        .attr("text-anchor", "middle")
        .attr("textLength", p.labelPos[2])
        .attr("lengthAdjust", "spacingAndGlyphs")
        .style("font-size", "10.5px").style("font-weight", "bold")
        .attr("fill", ink)
        .text(p.label);

    // legend
    var L = p.legend;
    var lg = g.append("g").attr("class", "legend");
    lg.append("rect")
        .attr("x", L.box[0]).attr("y", L.box[1])
        .attr("width", L.box[2] - L.box[0]).attr("height", L.box[3] - L.box[1])
        .attr("fill", "#fff").attr("stroke", ink).attr("stroke-width", 1.1);
    p.series.forEach(function(s, i) {
        var ry = L.rows[i];
        lg.append("line")
            .attr("x1", L.line[0]).attr("x2", L.line[1])
            .attr("y1", ry).attr("y2", ry)
            .attr("stroke", ink)
            .attr("stroke-width", s.lw || s.w)
            .attr("stroke-dasharray", s.ldash !== undefined ? s.ldash : s.dash);
        var t = lg.append("text")
            .attr("x", L.tx).attr("y", ry + 4)
            .attr("fill", ink)
            .style("font-size", "11px");
        t.append("tspan").text(s.name);
        if (s.sub) {
            t.append("tspan").attr("dy", s.dy).style("font-size", "8px").text(s.sub);
        }
    });
});

// group titles
titles.forEach(function(d) {
    svg.append("text")
        .attr("x", d.x).attr("y", d.y)
        .attr("text-anchor", "middle")
        .attr("textLength", d.len)
        .attr("lengthAdjust", "spacing")
        .attr("fill", "#111")
        .style("font-family", "'Liberation Serif', 'DejaVu Serif', serif")
        .style("font-size", "24px")
        .text(d.text);
});
</script>
</body>
</html>
